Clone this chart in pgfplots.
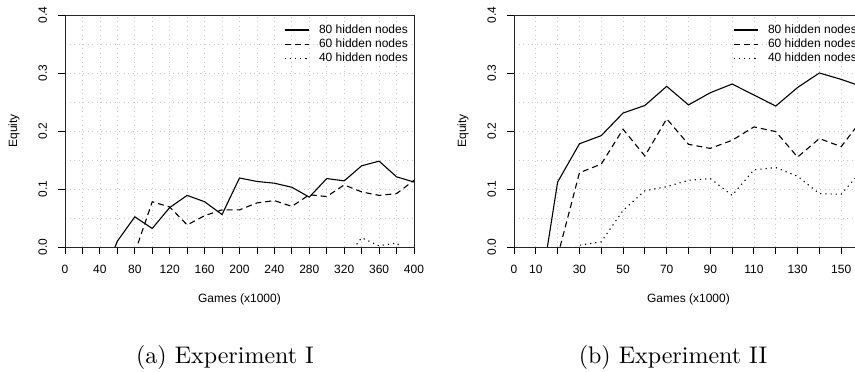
\documentclass[border=0pt]{standalone}
\usepackage{fontspec}
\usepackage{pgfplots}
\pgfplotsset{compat=1.18}
\newfontfamily\arial{Liberation Sans}
\newfontfamily\capfont{lmroman10-regular}[Extension=.otf]

\pgfplotsset{
  rstyle/.style={
    scale only axis, width=349pt, height=232pt,
    ymin=0, ymax=0.4,
    ytick={0,0.1,0.2,0.3,0.4},
    yticklabels={0.0,0.1,0.2,0.3,0.4},
    minor ytick={0.05,0.15,0.25,0.35},
    tick pos=left, tick align=outside,
    major tick length=7pt, minor tick length=0pt,
    grid=both,
    major grid style={gray!40, line width=0.8pt, dash pattern=on 0.9pt off 3.6pt},
    minor grid style={gray!40, line width=0.8pt, dash pattern=on 0.9pt off 3.6pt},
    axis line style={black!85, line width=0.9pt},
    major tick style={black, line width=0.9pt},
    font=\arial\fontsize{12}{14}\selectfont,
    /pgf/number format/assume math mode=true,
    xticklabel style={anchor=north, inner sep=0pt},
    yticklabel style={rotate=90, anchor=south, inner sep=0pt},
    xticklabel shift=10.7pt, yticklabel shift=10.7pt,
    xlabel={Games (x1000)}, ylabel={Equity},
    xlabel style={at={(axis description cs:0.5,-0.2241)}, anchor=center},
    ylabel style={at={(axis description cs:-0.1461,0.5)}, anchor=center},
    legend style={at={(axis description cs:1,1)}, anchor=north east, xshift=-5pt, yshift=-8pt,
      draw=none, fill=none, inner sep=0pt, row sep=0.8pt, column sep=9pt,
      font=\arial\fontsize{12}{14}\selectfont,
      nodes={inner sep=1pt, text height=9pt, text depth=2.5pt}},
    legend cell align=left,
    legend image code/.code={\draw[##1] (0pt,0pt) -- (24pt,0pt);},
  },
  s80/.style={black, line width=1.1pt, solid},
  s60/.style={black, line width=1.1pt, dash pattern=on 6pt off 4pt},
  s40/.style={black, line width=1.1pt, dash pattern=on 1.2pt off 4pt},
}

\begin{document}
\begin{tikzpicture}
\useasboundingbox (0pt,0pt) rectangle (855pt,372pt);
\clip (0pt,0pt) rectangle (855pt,372pt);

\begin{axis}[rstyle, at={(65pt,125pt)}, anchor=south west,
  xmin=0, xmax=400,
  xtick={0,20,...,400},
  xticklabels={0,{},40,{},80,{},120,{},160,{},200,{},240,{},280,{},320,{},360,{},400}]
\addplot[s80] coordinates {(40,-0.065)(60,0.010)(80,0.052)(100,0.032)(120,0.068)(140,0.089)(160,0.078)(180,0.056)(200,0.119)(220,0.113)(240,0.110)(260,0.103)(280,0.086)(300,0.118)(320,0.114)(340,0.140)(360,0.148)(380,0.121)(400,0.112)};
\addlegendentry{80 hidden nodes}
\addplot[s60] coordinates {(80,-0.010)(100,0.078)(120,0.069)(140,0.038)(160,0.054)(180,0.064)(200,0.064)(220,0.076)(240,0.080)(260,0.070)(280,0.090)(300,0.087)(320,0.107)(340,0.095)(360,0.089)(380,0.092)(400,0.115)};
\addlegendentry{60 hidden nodes}
\addplot[s40] coordinates {(320,-0.024)(340,0.016)(360,0.002)(380,0.007)(400,-0.020)};
\addlegendentry{40 hidden nodes}
\end{axis}

\begin{axis}[rstyle, at={(514pt,125pt)}, anchor=south west,
  xmin=0, xmax=160,
  xtick={0,10,...,160},
  xticklabels={0,10,{},30,{},50,{},70,{},90,{},110,{},130,{},150,{}}]
\addplot[s80] coordinates {(10,-0.127)(20,0.112)(30,0.178)(40,0.192)(50,0.231)(60,0.244)(70,0.277)(80,0.245)(90,0.266)(100,0.281)(110,0.262)(120,0.243)(130,0.275)(140,0.300)(150,0.289)(160,0.276)};
\addlegendentry{80 hidden nodes}
\addplot[s60] coordinates {(20,-0.016)(30,0.128)(40,0.143)(50,0.203)(60,0.157)(70,0.221)(80,0.177)(90,0.170)(100,0.184)(110,0.207)(120,0.199)(130,0.155)(140,0.187)(150,0.173)(160,0.222)};
\addlegendentry{60 hidden nodes}
\addplot[s40] coordinates {(20,-0.020)(30,0.003)(40,0.009)(50,0.063)(60,0.097)(70,0.104)(80,0.115)(90,0.118)(100,0.089)(110,0.133)(120,0.137)(130,0.122)(140,0.092)(150,0.091)(160,0.134)};
\addlegendentry{40 hidden nodes}
\end{axis}

\node[font=\capfont\fontsize{24}{28}\selectfont, anchor=base, inner sep=0pt] at (225pt,8pt) {(a) Experiment I};
\node[font=\capfont\fontsize{24}{28}\selectfont, anchor=base, inner sep=0pt] at (673pt,8pt) {(b) Experiment II};
\end{tikzpicture}
\end{document}
